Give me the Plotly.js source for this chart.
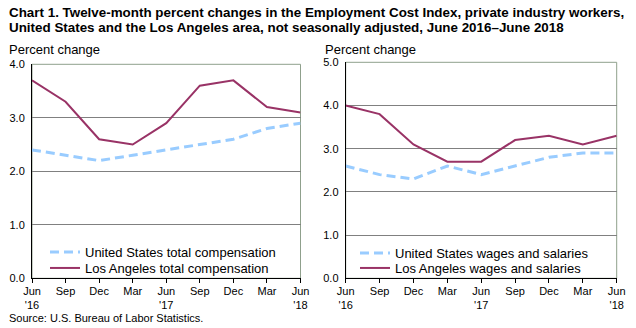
<!DOCTYPE html>
<html>
<head>
<meta charset="utf-8">
<script src="https://cdn.plot.ly/plotly-3.0.1.min.js"></script>
<style>html,body{margin:0;padding:0;background:#fff;}#chart{width:636px;height:328px;}</style>
</head>
<body>
<div id="chart"></div>
<script>
// Data
const quarters = ["Jun<br>'16", "Sep", "Dec", "Mar", "Jun<br>'17", "Sep", "Dec", "Mar", "Jun<br>'18"];
const usTotalComp = [2.4, 2.3, 2.2, 2.3, 2.4, 2.5, 2.6, 2.8, 2.9];
const laTotalComp = [3.7, 3.3, 2.6, 2.5, 2.9, 3.6, 3.7, 3.2, 3.1];
const usWages = [2.6, 2.4, 2.3, 2.6, 2.4, 2.6, 2.8, 2.9, 2.9];
const laWages = [4.0, 3.8, 3.1, 2.7, 2.7, 3.2, 3.3, 3.1, 3.3];
const yTicksLeft = [0, 1, 2, 3, 4];
const yTicksRight = [0, 1, 2, 3, 4, 5];

const pos = quarters.map((_, i) => i);
const W = 636, H = 328;
const FONT = 'Liberation Sans, Arial, sans-serif';
const usColor = '#99ccff';
const laColor = '#993366';
const gridColor = '#808080';
const borderColor = '#8fa08c';

const traces = [
  {x: pos, y: usTotalComp, type: 'scatter', mode: 'lines', name: 'United States total compensation',
   line: {color: usColor, width: 3, dash: '9px,5px'}, xaxis: 'x', yaxis: 'y', legend: 'legend'},
  {x: pos, y: laTotalComp, type: 'scatter', mode: 'lines', name: 'Los Angeles total compensation',
   line: {color: laColor, width: 2}, xaxis: 'x', yaxis: 'y', legend: 'legend2'},
  {x: pos, y: usWages, type: 'scatter', mode: 'lines', name: 'United States wages and salaries',
   line: {color: usColor, width: 3, dash: '9px,5px'}, xaxis: 'x2', yaxis: 'y2', legend: 'legend3'},
  {x: pos, y: laWages, type: 'scatter', mode: 'lines', name: 'Los Angeles wages and salaries',
   line: {color: laColor, width: 2}, xaxis: 'x2', yaxis: 'y2', legend: 'legend4'}
];

function xAxis(domain, anchor) {
  return {
    domain: domain, anchor: anchor, range: [0, 8], tickmode: 'array', tickvals: pos, ticktext: quarters,
    ticks: 'outside', ticklen: 4, tickcolor: '#000', tickwidth: 1,
    showline: true, linecolor: '#000', linewidth: 1, showgrid: false, zeroline: false,
    tickfont: {family: FONT, size: 11, color: '#000'}, ticklabelstandoff: -2, fixedrange: true
  };
}
function yAxis(domain, anchor, maxV, tv) {
  return {
    domain: domain, anchor: anchor, range: [0, maxV], tickmode: 'array', tickvals: tv,
    tickformat: '.1f', ticks: '', showline: true, linecolor: '#000', linewidth: 1,
    showgrid: true, gridcolor: gridColor, gridwidth: 1, zeroline: false,
    tickfont: {family: FONT, size: 11, color: '#000'}, ticklabelstandoff: 4, fixedrange: true
  };
}
function leg(xpx, ypx) {
  return {
    x: xpx / W, xanchor: 'left', y: 1 - ypx / H, yanchor: 'middle',
    bgcolor: 'rgba(0,0,0,0)', font: {family: FONT, size: 13, color: '#000'}, tracegroupgap: 0
  };
}

const layout = {
  width: W, height: H,
  margin: {l: 0, r: 0, t: 0, b: 0},
  paper_bgcolor: '#fff', plot_bgcolor: '#fff',
  showlegend: true,
  xaxis: xAxis([32 / W, 300.5 / W], 'y'),
  yaxis: yAxis([1 - 278.3 / H, 1 - 64.3 / H], 'x', 4, yTicksLeft),
  xaxis2: xAxis([345.7 / W, 616.7 / W], 'y2'),
  yaxis2: yAxis([1 - 278.3 / H, 1 - 62.3 / H], 'x2', 5, yTicksRight),
  legend: leg(45, 252),
  legend2: leg(45, 268),
  legend3: leg(355, 253),
  legend4: leg(355, 268),
  shapes: [
    {type: 'rect', xref: 'x domain', yref: 'y domain', x0: 0, x1: 1, y0: 0, y1: 1,
     line: {color: borderColor, width: 1}, layer: 'below'},
    {type: 'rect', xref: 'x2 domain', yref: 'y2 domain', x0: 0, x1: 1, y0: 0, y1: 1,
     line: {color: borderColor, width: 1}, layer: 'below'}
  ],
  annotations: [
    {text: '<b>Chart 1. Twelve-month percent changes in the Employment Cost Index, private industry workers,</b>',
     xref: 'paper', yref: 'paper', x: 7 / W, y: 1 - 12 / H, xanchor: 'left', yanchor: 'middle',
     showarrow: false, font: {family: FONT, size: 13.4, color: '#000'}},
    {text: '<b>United States and the Los Angeles area, not seasonally adjusted, June 2016\u2013June 2018</b>',
     xref: 'paper', yref: 'paper', x: 7 / W, y: 1 - 28 / H, xanchor: 'left', yanchor: 'middle',
     showarrow: false, font: {family: FONT, size: 13.4, color: '#000'}},
    {text: 'Percent change', xref: 'paper', yref: 'paper', x: 7 / W, y: 1 - 49 / H, xanchor: 'left', yanchor: 'middle',
     showarrow: false, font: {family: FONT, size: 13, color: '#000'}},
    {text: 'Percent change', xref: 'paper', yref: 'paper', x: 323 / W, y: 1 - 49 / H, xanchor: 'left', yanchor: 'middle',
     showarrow: false, font: {family: FONT, size: 13, color: '#000'}},
    {text: 'Source: U.S. Bureau of Labor Statistics.', xref: 'paper', yref: 'paper', x: 7 / W, y: 1 - 318 / H,
     xanchor: 'left', yanchor: 'middle', showarrow: false, font: {family: FONT, size: 11, color: '#000'}}
  ]
};

Plotly.newPlot('chart', traces, layout, {displayModeBar: false, staticPlot: true});
</script>
</body>
</html>
